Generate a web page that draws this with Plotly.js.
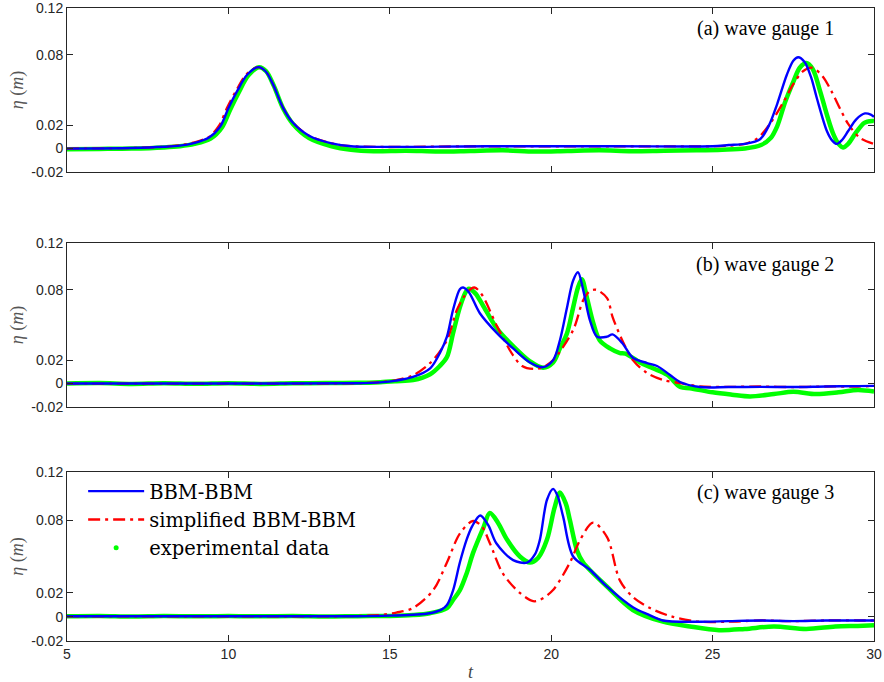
<!DOCTYPE html>
<html>
<head>
<meta charset="utf-8">
<script src="https://cdn.plot.ly/plotly-3.0.1.min.js"></script>
<style>html,body{margin:0;padding:0;background:#fff}#chart{width:884px;height:682px}</style>
</head>
<body>
<div id="chart"></div>
<script>
// ---------- data ----------
var seriesNames = ['BBM-BBM', 'simplified BBM-BBM', 'experimental data'];
var gaugeLabels = ['(a) wave gauge 1', '(b) wave gauge 2', '(c) wave gauge 3'];
var yTickVals = [-0.02, 0, 0.02, 0.08, 0.12];
var yTickText = ['-0.02', '0', '0.02', '0.08', '0.12'];
var xTickVals = [5, 10, 15, 20, 25, 30];

// gauge 1
var g1BlueT = [5, 7, 8, 8.5, 8.9, 9.4, 9.75, 10.0, 10.27, 10.58, 10.92, 11.15, 11.38, 11.69, 12.0, 12.5, 13.2, 13.8, 18, 22, 25, 25.5, 26, 26.47, 26.75, 27.0, 27.3, 27.5, 27.65, 27.85, 28.05, 28.23, 28.54, 28.7, 28.85, 29.0, 29.2, 29.45, 29.72, 29.9, 30];
var g1BlueV = [0, 0.0005, 0.0015, 0.0025, 0.0045, 0.0095, 0.019, 0.0345, 0.049, 0.063, 0.0695, 0.066, 0.055, 0.035, 0.022, 0.011, 0.0045, 0.002, 0.002, 0.002, 0.002, 0.003, 0.004, 0.008, 0.02, 0.038, 0.063, 0.075, 0.078, 0.074, 0.061, 0.043, 0.015, 0.007, 0.004, 0.007, 0.015, 0.025, 0.030, 0.029, 0.027];
var g1RedT = [5, 7, 8, 8.5, 8.9, 9.4, 9.72, 9.97, 10.25, 10.56, 10.92, 11.15, 11.38, 11.69, 12.0, 12.5, 13.2, 13.8, 18, 22, 25, 25.5, 26, 26.4, 26.8, 27.2, 27.5, 27.8, 28.08, 28.4, 28.7, 28.95, 29.2, 29.57, 30];
var g1RedV = [0, 0.0005, 0.0015, 0.0028, 0.005, 0.01, 0.02, 0.0355, 0.05, 0.0635, 0.0695, 0.066, 0.055, 0.035, 0.022, 0.011, 0.0045, 0.002, 0.002, 0.002, 0.002, 0.0025, 0.004, 0.009, 0.022, 0.04, 0.055, 0.066, 0.069, 0.062, 0.048, 0.034, 0.021, 0.009, 0.004];
var g1GreenT = [5, 6, 7, 8, 8.5, 8.95, 9.45, 9.8, 10.05, 10.32, 10.62, 10.95, 11.17, 11.4, 11.7, 12.0, 12.5, 13.2, 13.8, 14.5, 15.5, 16.5, 17.5, 18.5, 19.5, 20.5, 21.5, 22.5, 23.5, 24.5, 25.3, 26, 26.5, 26.8, 27.0, 27.25, 27.5, 27.7, 27.9, 28.1, 28.33, 28.55, 28.73, 28.9, 29.04, 29.2, 29.45, 29.7, 29.94, 30];
var g1GreenV = [-0.0005, -0.0003, 0, 0.001, 0.002, 0.004, 0.0085, 0.018, 0.033, 0.048, 0.0625, 0.0695, 0.066, 0.054, 0.034, 0.021, 0.009, 0.002, -0.001, -0.0022, -0.0018, -0.0025, -0.002, -0.0015, -0.0025, -0.002, -0.0015, -0.0022, -0.0018, -0.0015, -0.001, 0.0, 0.003, 0.009, 0.019, 0.04, 0.057, 0.069, 0.073, 0.068, 0.049, 0.028, 0.013, 0.004, 0.001, 0.004, 0.014, 0.022, 0.0236, 0.0235];

// gauge 2
var g2BlueT = [5, 10, 14, 14.7, 15.2, 15.72, 16.25, 16.55, 16.77, 16.96, 17.17, 17.27, 17.45, 17.79, 18.32, 18.82, 19.34, 19.75, 20.06, 20.27, 20.49, 20.68, 20.83, 20.99, 21.2, 21.42, 21.73, 21.9, 22.2, 22.53, 22.97, 23.28, 23.68, 23.99, 24.6, 25.5, 26.5, 27.5, 28.5, 29.5, 30];
var g2BlueV = [0, 0, 0.0003, 0.001, 0.0025, 0.0056, 0.013, 0.026, 0.040, 0.063, 0.0805, 0.082, 0.078, 0.060, 0.043, 0.030, 0.018, 0.014, 0.020, 0.037, 0.065, 0.088, 0.095, 0.080, 0.054, 0.040, 0.040, 0.042, 0.0346, 0.022, 0.0175, 0.015, 0.0073, 0.0013, -0.003, -0.003, -0.0028, -0.003, -0.0025, -0.0022, -0.002];
var g2RedT = [5, 10, 14, 14.7, 15.2, 15.72, 16.25, 16.77, 17.08, 17.4, 17.62, 17.85, 18.32, 18.82, 19.1, 19.45, 19.75, 20.06, 20.68, 20.99, 21.2, 21.4, 21.73, 21.9, 22.2, 22.53, 22.97, 23.47, 24.0, 24.6, 25.5, 26.5, 27.5, 28.5, 29.5, 30];
var g2RedV = [0, 0, 0.0003, 0.0012, 0.003, 0.007, 0.0175, 0.037, 0.063, 0.078, 0.082, 0.076, 0.049, 0.024, 0.015, 0.0125, 0.014, 0.02, 0.0457, 0.071, 0.079, 0.080, 0.073, 0.057, 0.037, 0.020, 0.009, 0.003, 0.0004, -0.0025, -0.0028, -0.0025, -0.003, -0.0025, -0.0025, -0.002];
var g2GreenT = [5, 6, 7, 8, 9, 10, 11, 12, 13, 14, 14.7, 15.2, 15.72, 16.25, 16.55, 16.77, 16.96, 17.17, 17.35, 17.45, 17.65, 17.9, 18.32, 18.82, 19.34, 19.75, 20.06, 20.27, 20.49, 20.68, 20.83, 20.95, 21.1, 21.3, 21.5, 21.82, 22.13, 22.3, 22.75, 23.15, 23.6, 24.0, 24.3, 25.0, 25.6, 26.16, 26.9, 27.5, 28.2, 28.9, 29.5, 30];
var g2GreenV = [0, 0.0004, -0.0003, 0.0003, -0.0002, 0.0003, -0.0003, 0.0002, 0.0004, 0.0006, 0.0012, 0.002, 0.003, 0.008, 0.015, 0.0226, 0.043, 0.065, 0.078, 0.081, 0.077, 0.066, 0.047, 0.032, 0.019, 0.0135, 0.018, 0.03, 0.043, 0.065, 0.082, 0.089, 0.074, 0.052, 0.037, 0.030, 0.026, 0.0255, 0.018, 0.013, 0.0073, -0.003, -0.004, -0.0075, -0.0095, -0.011, -0.009, -0.007, -0.009, -0.0075, -0.0055, -0.0068];

// gauge 3
var g3BlueT = [5, 10, 14, 15, 15.72, 16.24, 16.6, 16.77, 16.96, 17.17, 17.38, 17.55, 17.8, 18.05, 18.3, 18.82, 19.25, 19.5, 19.65, 19.87, 20.06, 20.2, 20.37, 20.68, 21.2, 21.73, 22.53, 23.0, 23.46, 24.6, 25.5, 26.5, 27.5, 28.5, 29.5, 30];
var g3BlueV = [0.0005, 0.0005, 0.0005, 0.001, 0.0018, 0.003, 0.006, 0.0098, 0.022, 0.045, 0.064, 0.075, 0.084, 0.076, 0.061, 0.047, 0.045, 0.052, 0.064, 0.097, 0.106, 0.1, 0.083, 0.050, 0.039, 0.025, 0.008, 0.002, -0.003, -0.004, -0.0035, -0.003, -0.0035, -0.003, -0.003, -0.003];
var g3RedT = [5, 10, 14, 14.7, 15.2, 15.72, 16.34, 16.77, 17.17, 17.58, 17.85, 18.1, 18.5, 19.03, 19.44, 19.65, 20.05, 20.58, 20.9, 21.3, 21.73, 22.13, 22.53, 23.06, 23.77, 24.6, 25.5, 26.5, 27.5, 28.5, 29.5, 30];
var g3RedV = [0.0005, 0.0005, 0.0007, 0.0015, 0.0035, 0.0073, 0.022, 0.045, 0.069, 0.0794, 0.075, 0.061, 0.036, 0.0198, 0.013, 0.014, 0.022, 0.045, 0.064, 0.078, 0.066, 0.030, 0.0165, 0.0073, 0.0, -0.004, -0.004, -0.003, -0.0035, -0.003, -0.003, -0.003];
var g3GreenT = [5, 6, 7, 8, 9, 10, 11, 12, 13, 14, 15, 15.72, 16.24, 16.77, 16.96, 17.17, 17.38, 17.58, 17.9, 18.1, 18.35, 18.63, 19.03, 19.34, 19.6, 19.87, 20.1, 20.27, 20.45, 20.58, 20.8, 20.99, 21.73, 22.53, 23.46, 24.3, 25.2, 26.0, 26.9, 27.9, 28.8, 29.5, 30];
var g3GreenV = [0.0005, 0.0008, 0.0003, 0.0007, 0.0004, 0.0008, 0.0004, 0.0007, 0.0003, 0.0006, 0.0008, 0.0015, 0.003, 0.0073, 0.014, 0.022, 0.036, 0.053, 0.074, 0.086, 0.078, 0.064, 0.05, 0.045, 0.049, 0.064, 0.09, 0.103, 0.094, 0.080, 0.055, 0.045, 0.025, 0.0057, -0.004, -0.008, -0.011, -0.010, -0.008, -0.010, -0.008, -0.0075, -0.007];

// ---------- styles ----------
var BLUE = '#0000ff', RED = '#ff0000', GREEN = '#00ff00';
var AX = '#262626';
var SERIF = '"Liberation Serif", "DejaVu Serif", serif';
var SANS = '"Liberation Sans", Arial, sans-serif';

var gauges = [
  {bt: g1BlueT, bv: g1BlueV, rt: g1RedT, rv: g1RedV, gt: g1GreenT, gv: g1GreenV},
  {bt: g2BlueT, bv: g2BlueV, rt: g2RedT, rv: g2RedV, gt: g2GreenT, gv: g2GreenV},
  {bt: g3BlueT, bv: g3BlueV, rt: g3RedT, rv: g3RedV, gt: g3GreenT, gv: g3GreenV}
];
var axSuffix = ['', '2', '3'];
var traces = [];
gauges.forEach(function (g, i) {
  var xa = 'x' + axSuffix[i], ya = 'y' + axSuffix[i];
  traces.push({x: g.gt, y: g.gv, xaxis: xa, yaxis: ya, mode: 'lines', showlegend: false,
    line: {color: GREEN, width: 4.5, shape: 'spline', smoothing: 0.9}, hoverinfo: 'skip'});
  traces.push({x: g.rt, y: g.rv, xaxis: xa, yaxis: ya, mode: 'lines', name: seriesNames[1], showlegend: false,
    line: {color: RED, width: 2.3, dash: '12px,5px,3px,5px', shape: 'spline', smoothing: 0.9}});
  traces.push({x: g.bt, y: g.bv, xaxis: xa, yaxis: ya, mode: 'lines', name: seriesNames[0], showlegend: false,
    line: {color: BLUE, width: 2.4, shape: 'spline', smoothing: 0.9}});
});
// legend entries
traces.push({x: [null], y: [null], xaxis: 'x3', yaxis: 'y3', mode: 'lines', name: seriesNames[0],
  line: {color: BLUE, width: 2.4}});
traces.push({x: [null], y: [null], xaxis: 'x3', yaxis: 'y3', mode: 'lines', name: seriesNames[1],
  line: {color: RED, width: 2.3, dash: '12px,5px,3px,5px'}});
traces.push({x: [null], y: [null], xaxis: 'x3', yaxis: 'y3', mode: 'markers', name: seriesNames[2],
  marker: {color: GREEN, size: 5}});

var YR = [-0.02000001, 0.12000001];
function xAxis(anchor, labels) {
  return {anchor: anchor, range: [5, 30], tickvals: xTickVals, ticktext: xTickVals.map(String),
    showticklabels: labels, ticks: 'inside', ticklen: 6, tickcolor: AX, tickwidth: 1,
    showline: true, linecolor: AX, linewidth: 1, mirror: 'ticks', showgrid: false, zeroline: false,
    ticklabeloverflow: 'allow',
    tickfont: {family: SANS, size: 14, color: AX}};
}
function yAxis(anchor, dom) {
  return {anchor: anchor, domain: dom, range: YR, tickvals: yTickVals, ticktext: yTickText,
    ticks: 'inside', ticklen: 6, tickcolor: AX, tickwidth: 1,
    showline: true, linecolor: AX, linewidth: 1, mirror: 'ticks', showgrid: false, zeroline: false,
    ticklabeloverflow: 'allow',
    tickfont: {family: SANS, size: 14, color: AX},
    title: {text: '<i>η</i> (<i>m</i>)', font: {family: SERIF, size: 18, color: '#555'}, standoff: 2}};
}
var xa3 = xAxis('y3', true);
xa3.title = {text: '<i>t</i>', font: {family: SERIF, size: 18, color: '#444'}, standoff: 6};

var layout = {
  width: 884, height: 682,
  margin: {l: 67, r: 10, t: 8, b: 41},
  paper_bgcolor: '#fff', plot_bgcolor: '#fff',
  xaxis: xAxis('y', false), yaxis: yAxis('x', [0.7409, 1]),
  xaxis2: xAxis('y2', false), yaxis2: yAxis('x2', [0.3697, 0.6288]),
  xaxis3: xa3, yaxis3: yAxis('x3', [0, 0.267]),
  showlegend: true,
  legend: {x: 0.02, y: 0.267, xanchor: 'left', yanchor: 'top', bgcolor: 'rgba(255,255,255,0)',
    font: {family: '"DejaVu Serif", serif', size: 19.5, color: '#000'}, tracegroupgap: 0, itemwidth: 56},
  annotations: gaugeLabels.map(function (s, i) {
    var ys = [0.968, 0.594, 0.234];
    return {text: s, xref: 'paper', yref: 'paper', x: 0.953, y: ys[i], xanchor: 'right', yanchor: 'middle',
      showarrow: false, font: {family: SERIF, size: 20, color: '#000'}};
  })
};
Plotly.newPlot('chart', traces, layout, {displayModeBar: false, staticPlot: true});
</script>
</body>
</html>
